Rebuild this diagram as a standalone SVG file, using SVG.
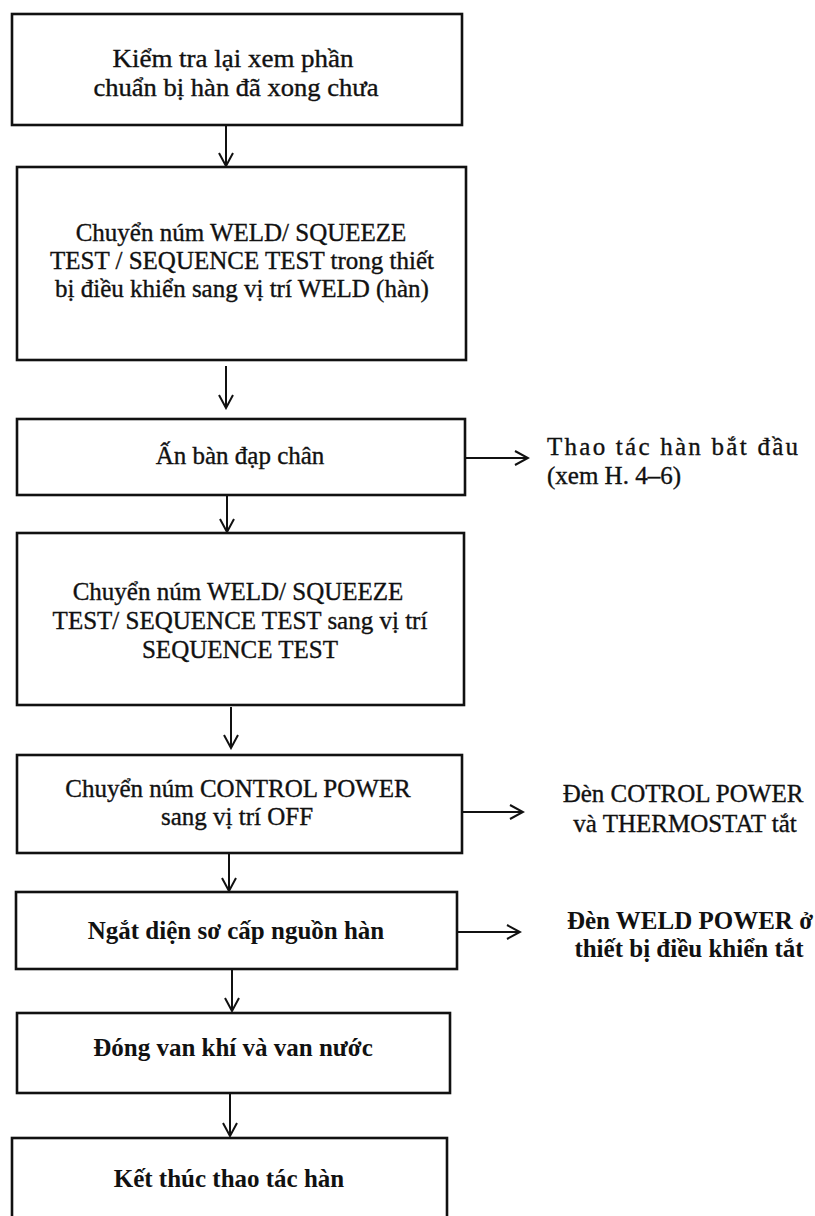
<svg xmlns="http://www.w3.org/2000/svg" width="815" height="1216" viewBox="0 0 815 1216">
<style>
.box{fill:none;stroke:#111;stroke-width:2.6}
.t{font-family:"Liberation Serif","Times New Roman",serif;font-size:25px;fill:#111;text-anchor:middle}
.r{stroke:#111;stroke-width:0.35}
.b{font-weight:bold}
.l{text-anchor:start}
.c{fill:none;stroke:#111;stroke-width:2}
</style>
<defs>
<marker id="arr" markerUnits="userSpaceOnUse" markerWidth="16" markerHeight="18" refX="14" refY="8" orient="auto" viewBox="0 0 16 18">
<path d="M1,1 L14,8 L1,15" fill="none" stroke="#111" stroke-width="2"/>
</marker>
</defs>
<rect width="815" height="1216" fill="#fff"/>
<g id="connectors">
<line class="c" x1="226" y1="126" x2="226" y2="166" marker-end="url(#arr)"/>
<line class="c" x1="226" y1="366" x2="226" y2="408" marker-end="url(#arr)"/>
<line class="c" x1="227" y1="496" x2="227" y2="532" marker-end="url(#arr)"/>
<line class="c" x1="231" y1="707" x2="231" y2="748" marker-end="url(#arr)"/>
<line class="c" x1="229" y1="854" x2="229" y2="891" marker-end="url(#arr)"/>
<line class="c" x1="232" y1="970" x2="232" y2="1011" marker-end="url(#arr)"/>
<line class="c" x1="230" y1="1094" x2="230" y2="1136" marker-end="url(#arr)"/>
<line class="c" x1="466" y1="458" x2="528" y2="458" marker-end="url(#arr)"/>
<line class="c" x1="463" y1="812" x2="523" y2="812" marker-end="url(#arr)"/>
<line class="c" x1="458" y1="932" x2="520" y2="932" marker-end="url(#arr)"/>
</g>
<g id="n1">
<rect class="box" x="12" y="14" width="450" height="111"/>
<text class="t r" x="233" y="67" textLength="241" lengthAdjust="spacingAndGlyphs">Kiểm tra lại xem phần</text>
<text class="t r" x="236" y="96" textLength="285" lengthAdjust="spacingAndGlyphs">chuẩn bị hàn đã xong chưa</text>
</g>
<g id="n2">
<rect class="box" x="17" y="167" width="449" height="193"/>
<text class="t r" x="241" y="241">Chuyển núm WELD/ SQUEEZE</text>
<text class="t r" x="242" y="269">TEST / SEQUENCE TEST trong thiết</text>
<text class="t r" x="242" y="297">bị điều khiển sang vị trí WELD (hàn)</text>
</g>
<g id="n3">
<rect class="box" x="17" y="419" width="448" height="76"/>
<text class="t r" x="240" y="464">Ấn bàn đạp chân</text>
</g>
<g id="n4">
<rect class="box" x="17" y="533" width="447" height="172"/>
<text class="t r" x="238" y="600">Chuyển núm WELD/ SQUEEZE</text>
<text class="t r" x="240" y="629">TEST/ SEQUENCE TEST sang vị trí</text>
<text class="t r" x="240" y="658">SEQUENCE TEST</text>
</g>
<g id="n5">
<rect class="box" x="17" y="755" width="445" height="98"/>
<text class="t r" x="238" y="797">Chuyển núm CONTROL POWER</text>
<text class="t r" x="237" y="825">sang vị trí OFF</text>
</g>
<g id="n6">
<rect class="box" x="16" y="892" width="441" height="77"/>
<text class="t b" x="236" y="939">Ngắt diện sơ cấp nguồn hàn</text>
</g>
<g id="n7">
<rect class="box" x="17" y="1013" width="433" height="80"/>
<text class="t b" x="233" y="1056">Đóng van khí và van nước</text>
</g>
<g id="n8">
<rect class="box" x="12" y="1138" width="435" height="90"/>
<text class="t b" x="229" y="1187">Kết thúc thao tác hàn</text>
</g>
<g id="label1">
<text class="t r l" x="547" y="455" textLength="251" lengthAdjust="spacing">Thao tác hàn bắt đầu</text>
<text class="t r l" x="547" y="484">(xem H. 4–6)</text>
</g>
<g id="label2">
<text class="t r" x="683" y="802">Đèn COTROL POWER</text>
<text class="t r" x="685" y="832">và THERMOSTAT tắt</text>
</g>
<g id="label3">
<text class="t b" x="690" y="929">Đèn WELD POWER ở</text>
<text class="t b" x="689" y="957">thiết bị điều khiển tắt</text>
</g>
</svg>
